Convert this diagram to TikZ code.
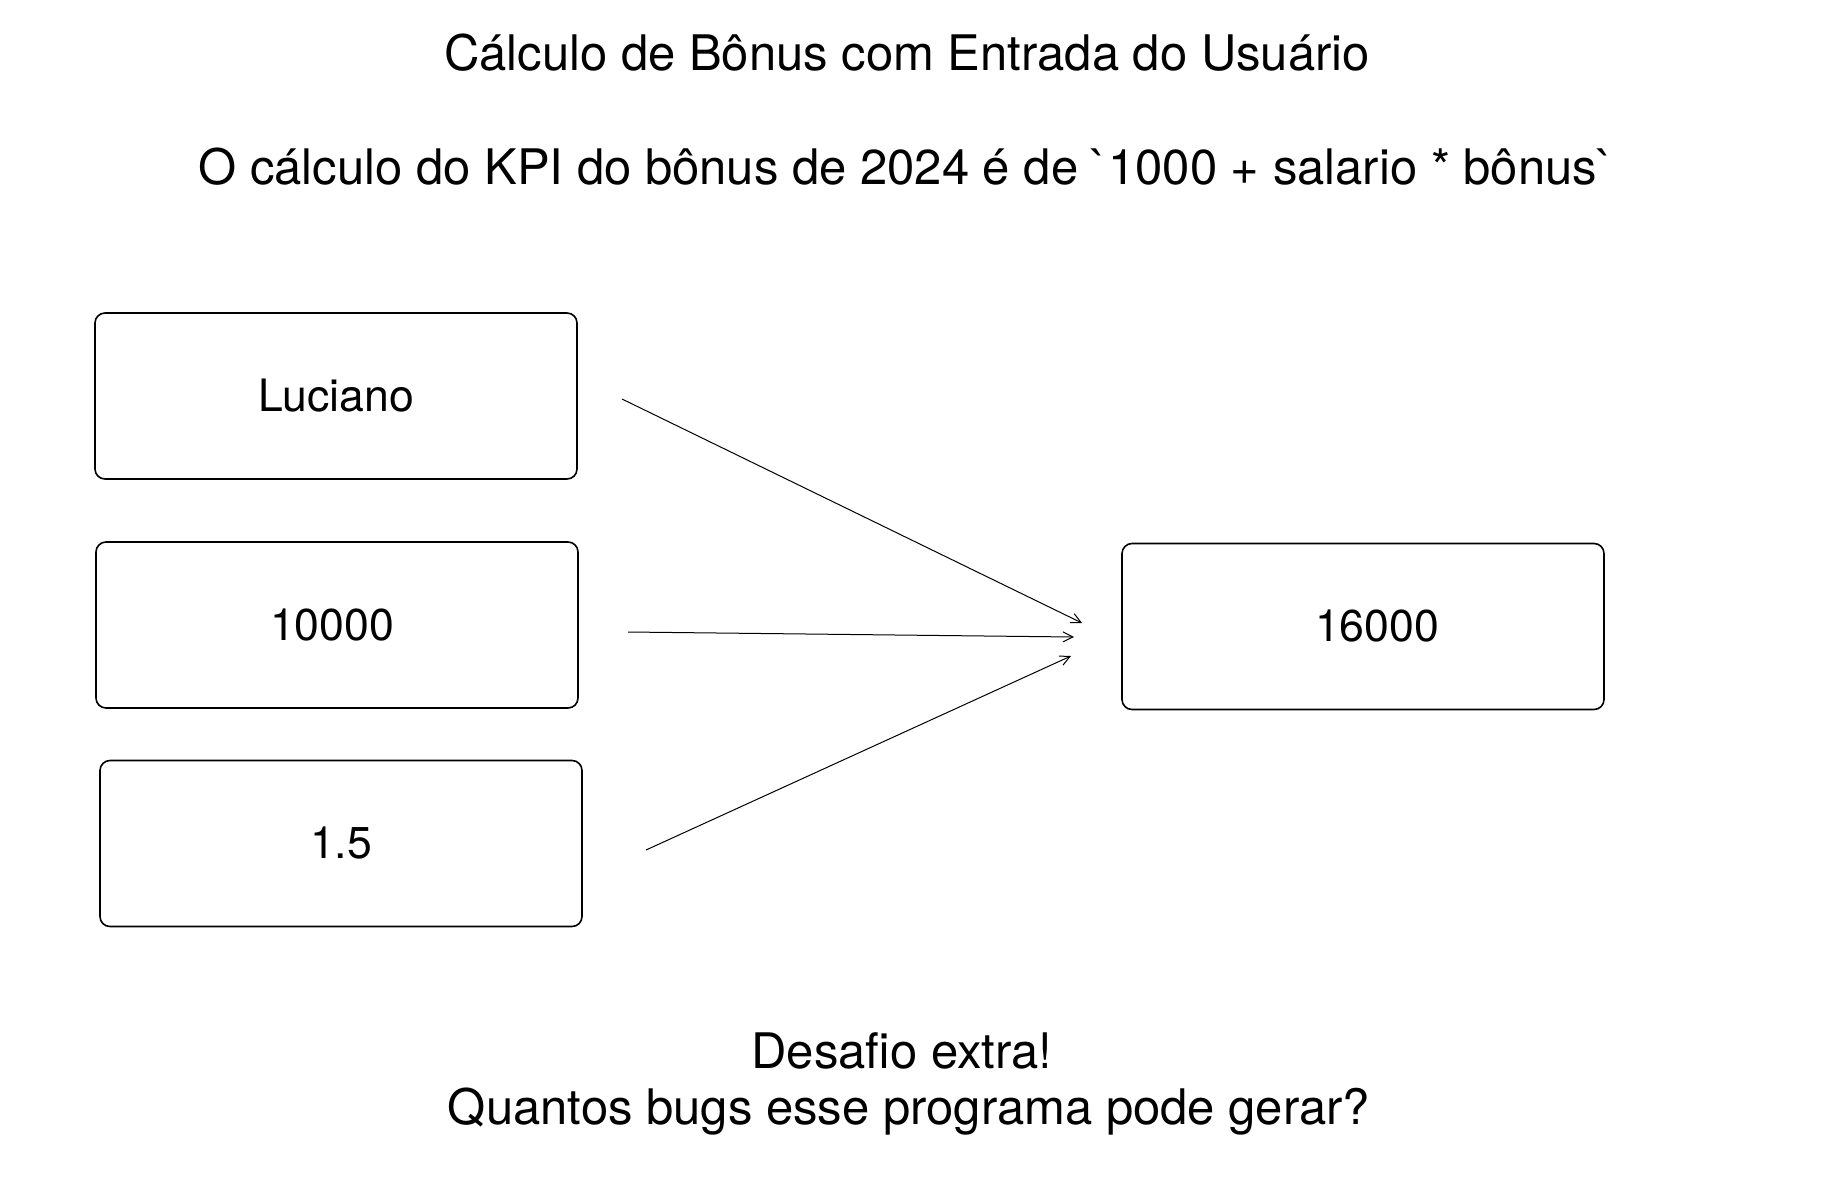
\documentclass[tikz,border=0pt]{standalone}
\usepackage{fontspec}
\setmainfont{TeX Gyre Heros}[Ligatures=TeXOff]
\usetikzlibrary{arrows.meta}

\begin{document}
\begin{tikzpicture}[x=0.5pt, y=-0.5pt,
    caixa/.style={draw, line width=0.8pt, rounded corners=5pt,
      minimum width=241pt, minimum height=83pt, inner sep=0pt,
      font=\fontsize{22.3}{26}\selectfont},
    texto/.style={anchor=base, inner sep=0pt,
      font=\fontsize{24.5}{28}\selectfont},
    seta/.style={line width=0.5pt, -{Straight Barb[length=5pt, width=5pt]}}]
  \useasboundingbox (0,0) rectangle (1836,1178);

  % Titles
  \node [texto] (titulo) at (907,70) {Cálculo de Bônus com Entrada do Usuário};
  \node [texto] (formula) at (906,184) {O cálculo do KPI do bônus de 2024 é de `1000 + salario * bônus`};

  % Inputs
  \node [caixa] (nome) at (336,396) {Luciano};
  \node [caixa] (salario) at (337,625) {10000\hspace*{5pt}};
  \node [caixa] (bonus) at (341,843.5) {1.5};

  % Result
  \node [caixa] (resultado) at (1363,626.5) {\hspace*{14pt}16000};

  % Arrow ends
  \coordinate (nomeA) at (622,399);
  \coordinate (nomeB) at (1082,623);
  \coordinate (salarioA) at (628,632);
  \coordinate (salarioB) at (1074,637);
  \coordinate (bonusA) at (646,850);
  \coordinate (bonusB) at (1071,656);

  % Arrows
  \draw [seta] (nomeA) -- (nomeB);
  \draw [seta] (salarioA) -- (salarioB);
  \draw [seta] (bonusA) -- (bonusB);

  % Challenge
  \node [texto] (desafio) at (902,1068) {Desafio extra!};
  \node [texto] (pergunta) at (909,1124) {Quantos bugs esse programa pode gerar?};
\end{tikzpicture}
\end{document}
